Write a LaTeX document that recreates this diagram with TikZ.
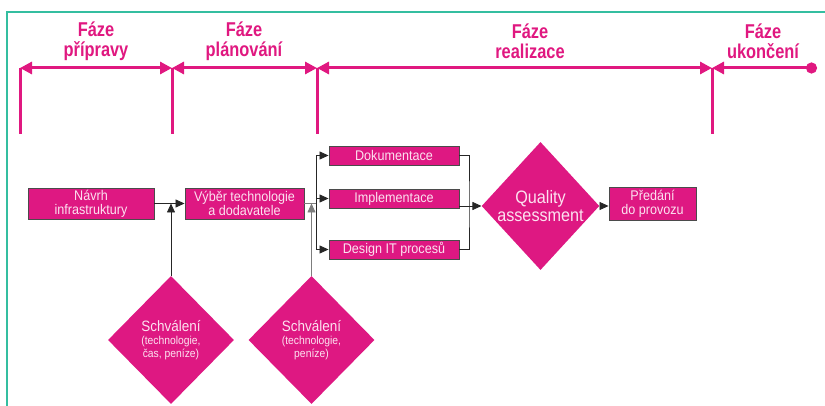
\documentclass[tikz,border=0pt]{standalone}
\usepackage{fontspec}
\setmainfont{Liberation Sans}[FakeStretch=0.9]
\newfontfamily\phasefont{Liberation Sans}[FakeStretch=0.82]
\usetikzlibrary{shapes.geometric,arrows.meta,positioning}

\definecolor{fazepink}{RGB}{224,24,128}
\definecolor{boxpink}{RGB}{222,24,130}
\definecolor{boxtext}{RGB}{252,226,240}
\definecolor{boxline}{RGB}{75,75,75}
\definecolor{frameteal}{RGB}{52,190,160}
\definecolor{flowgray}{RGB}{125,125,125}

\tikzset{
  phase/.style={draw=fazepink, line width=3pt},
  phasetip/.tip={Triangle[length=12pt,width=12pt]},
  phaselabel/.style={text=fazepink, font=\phasefont\bfseries\fontsize{20}{20}\selectfont, align=center, inner sep=0pt},
  task/.style={draw=boxline, line width=0.9pt, fill=boxpink, text=boxtext, align=center, inner sep=0pt, font=\fontsize{14}{14}\selectfont},
  gate/.style={diamond, fill=boxpink, text=boxtext, align=center, inner sep=0pt},
  flow/.style={draw=black!85, line width=0.8pt, -{Triangle[length=9pt,width=8pt]}},
  link/.style={draw=black!85, line width=0.8pt},
}

\begin{document}
\begin{tikzpicture}[x=1pt,y=-1pt]
\useasboundingbox (0,0) rectangle (825,406);

% frame
\draw[frameteal, line width=2.5pt] (7,410) -- (7,12) -- (830,12);

% phase timeline
\coordinate (t1) at (20,68);
\coordinate (t2) at (172,68);
\coordinate (t3) at (317,68);
\coordinate (t4) at (712,68);
\coordinate (tend) at (817,68);
\foreach \t in {t1,t2,t3,t4}
  \draw[phase] (\t) -- ++(0,66);
\draw[phase, phasetip-phasetip] (t1) -- (t2);
\draw[phase, phasetip-phasetip] (t2) -- (t3);
\draw[phase, phasetip-phasetip] (t3) -- (t4);
\draw[phase, phasetip-{Circle[length=11pt]}] (t4) -- (tend);

\node[phaselabel] (f1) at (96,41) {Fáze\\přípravy};
\node[phaselabel] (f2) at (244,41) {Fáze\\plánování};
\node[phaselabel] (f3) at (530,41) {Fáze\\realizace};
\node[phaselabel] (f4) at (763,41) {Fáze\\ukončení};

% nodes
\node[task, minimum width=126pt, minimum height=31pt] (navrh) at (91,203.5) {Návrh\\infrastruktury};
\node[task, minimum width=119pt, minimum height=31pt] (vyber) at (244.5,203.5) {Výběr technologie\\a dodavatele};
\node[task, minimum width=130pt, minimum height=19pt] (dok) at (394,155.5) {Dokumentace};
\node[task, minimum width=130pt, minimum height=19pt] (impl) at (394,198.5) {Implementace};
\node[task, minimum width=130pt, minimum height=19pt] (design) at (394,249.5) {Design IT procesů};
\node[task, minimum width=87pt, minimum height=33pt] (predani) at (652.5,203.5) {Předání\\do provozu};

\node[gate, minimum width=115pt, minimum height=128pt, font=\fontsize{18}{18}\selectfont] (qa) at (540.5,206) {Quality\\assessment};
\node[gate, minimum width=126pt, minimum height=128pt, font=\fontsize{11.5}{13}\selectfont] (schv1) at (171,340)
  {{\fontsize{15}{15}\selectfont Schválení}\\(technologie,\\čas, peníze)};
\node[gate, minimum width=126pt, minimum height=128pt, font=\fontsize{11.5}{13}\selectfont] (schv2) at (311.5,340)
  {{\fontsize{15}{15}\selectfont Schválení}\\(technologie,\\peníze)};

% connectors
\coordinate (split) at (316,203.5);
\coordinate (join) at (469,206);
\draw[flow] (navrh) -- (vyber);
\draw[flow] (schv1) -- (schv1 |- navrh.east);
\draw[link, draw=flowgray] (vyber) -- (split);
\draw[flow] (split) |- (dok);
\draw[flow] (split) |- (impl);
\draw[flow] (split) |- (design);
\draw[flow, draw=flowgray] (schv2) -- (schv2 |- vyber.east);
\draw[link] (dok) -| (join) |- (design);
\draw[flow] (impl.east |- qa) -- (qa);
\draw[flow] (qa) -- (qa -| predani.west);

\end{tikzpicture}
\end{document}
